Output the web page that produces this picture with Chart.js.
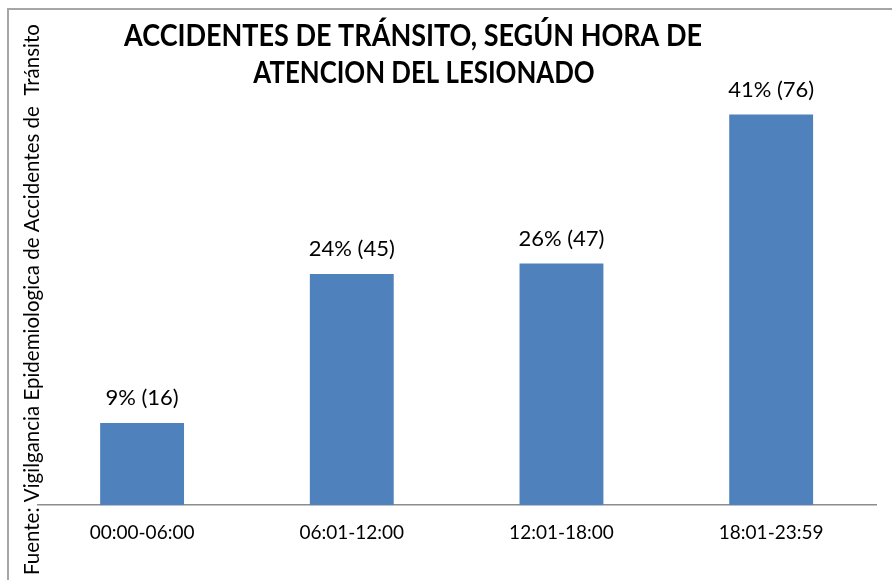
<!DOCTYPE html>
<html>
<head>
<meta charset="utf-8">
<script src="https://cdn.jsdelivr.net/npm/chart.js@4/dist/chart.umd.min.js"></script>
<style>
  body { margin: 0; background: #fff; }
  #wrap { position: relative; width: 892px; height: 580px; }
  #frame { position: absolute; left: 7px; top: 8px; right: -5px; bottom: -5px; border: 2px solid #a6a6a6; }
</style>
</head>
<body>
<div id="wrap">
  <div id="frame"></div>
  <canvas id="myChart" width="892" height="580"></canvas>
</div>
<script>
// datos del grafico
var horas = ['00:00-06:00', '06:01-12:00', '12:01-18:00', '18:01-23:59']
var casos = [16, 45, 47, 76]
var porcentajes = [9, 24, 26, 41]
var tituloLineas = ['ACCIDENTES DE TRÁNSITO, SEGÚN HORA DE', 'ATENCION DEL LESIONADO']
var fuente = 'Fuente: Vigilgancia Epidemiologica de Accidentes de  Tránsito'

// titulo dibujado a mano (letra algo condensada, desplazado a la izquierda)
var tituloPlugin = {
  id: 'titulo',
  afterDraw: function(chart) {
    var ctx = chart.ctx
    var sx = 0.9
    ctx.save()
    ctx.scale(sx, 1)
    ctx.fillStyle = '#000'
    ctx.font = 'bold 30px Lato'
    ctx.textAlign = 'center'
    ctx.textBaseline = 'middle'
    ctx.fillText(tituloLineas[0], 413 / sx, 36)
    ctx.restore()
    // segunda linea un poco mas estrecha
    ctx.save()
    ctx.scale(0.86, 1)
    ctx.fillStyle = '#000'
    ctx.font = 'bold 30px Lato'
    ctx.textAlign = 'center'
    ctx.textBaseline = 'middle'
    ctx.fillText(tituloLineas[1], 424 / 0.86, 73)
    ctx.restore()
  }
}

// etiquetas encima de cada barra
var etiquetasPlugin = {
  id: 'etiquetas',
  afterDatasetsDraw: function(chart) {
    var ctx = chart.ctx
    ctx.save()
    ctx.fillStyle = '#000'
    ctx.font = '22px Lato'
    ctx.textAlign = 'center'
    ctx.textBaseline = 'middle'
    chart.getDatasetMeta(0).data.forEach(function(bar, i) {
      ctx.fillText(porcentajes[i] + '% (' + casos[i] + ')', bar.x, bar.y - 25)
    })
    ctx.restore()
  }
}

var ctx = document.getElementById('myChart').getContext('2d')
var chart = new Chart(ctx, {
  type: 'bar',
  data: {
    labels: horas,
    datasets: [{
      data: casos,
      backgroundColor: '#4F81BD',
      borderWidth: 0,
      barPercentage: 0.4,
      categoryPercentage: 1
    }]
  },
  options: {
    responsive: false,
    animation: false,
    layout: { padding: { left: 27, right: 16, top: 94, bottom: 20 } },
    plugins: {
      legend: { display: false },
      tooltip: { enabled: false }
    },
    scales: {
      x: {
        grid: { display: false, drawTicks: false },
        border: { display: true, color: '#8c8c8c', width: 1.5 },
        ticks: { color: '#000', font: { family: 'Lato', size: 19 }, padding: 16 }
      },
      y: {
        min: 0,
        max: 80,
        grid: { display: false, drawTicks: false },
        border: { display: false },
        ticks: { display: false },
        title: {
          display: true,
          text: fuente,
          color: '#000',
          font: { family: 'Lato', size: 20.5, lineHeight: 0.5 },
          padding: 0
        }
      }
    }
  },
  plugins: [tituloPlugin, etiquetasPlugin]
})
</script>
</body>
</html>
